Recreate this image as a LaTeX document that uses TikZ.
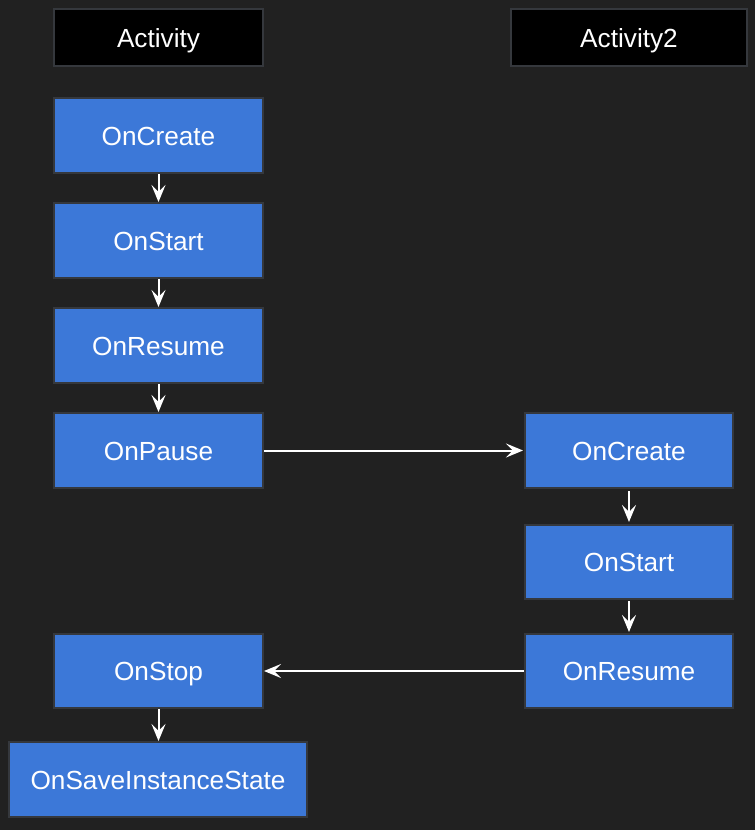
\documentclass[tikz,border=0pt]{standalone}
\usepackage{fontspec}
\setmainfont{Liberation Sans}
\usetikzlibrary{arrows.meta}
\definecolor{bg}{HTML}{212121}
\definecolor{boxblue}{HTML}{3C78D8}
\definecolor{edge}{HTML}{35383D}
\tikzset{
  lbl/.style={text=white, inner sep=0pt, text height=19pt, text depth=0pt,
    font=\fontsize{26.2}{30}\selectfont},
  box/.style={lbl, draw=edge, line width=2pt, fill=boxblue},
  header/.style={lbl, draw=edge, line width=2pt, fill=black, minimum height=57pt},
  flow/.style={draw=white, line width=2pt, -{Stealth[length=17pt,width=14pt,inset=7pt]}}
}
\begin{document}
\begin{tikzpicture}[x=1pt,y=-1pt]
\fill[bg] (0,0) rectangle (755,830);
\useasboundingbox (0,0) rectangle (755,830);
\node[header, minimum width=209pt] (h1) at (158.5,37.5) {Activity};
\node[header, minimum width=236pt] (h2) at (629,37.5) {Activity2};
\node[box, minimum width=209pt, minimum height=75pt] (c1) at (158.5,135.5) {OnCreate};
\node[box, minimum width=209pt, minimum height=75pt] (s1) at (158.5,240.5) {OnStart};
\node[box, minimum width=209pt, minimum height=75pt] (r1) at (158.5,345.5) {OnResume};
\node[box, minimum width=209pt, minimum height=75pt] (p1) at (158.5,450.5) {OnPause};
\node[box, minimum width=208pt, minimum height=75pt] (c2) at (629,450.5) {OnCreate};
\node[box, minimum width=208pt, minimum height=74pt] (s2) at (629,562) {OnStart};
\node[box, minimum width=208pt, minimum height=74pt] (r2) at (629,671) {OnResume};
\node[box, minimum width=209pt, minimum height=74pt] (st) at (158.5,671) {OnStop};
\node[box, minimum width=298pt, minimum height=75pt] (sv) at (158,779.5) {OnSaveInstanceState};
\draw[flow] (c1) -- (s1);
\draw[flow] (s1) -- (r1);
\draw[flow] (r1) -- (p1);
\draw[flow, shorten >=1pt] (p1) -- (c2);
\draw[flow, shorten <=2pt, shorten >=2pt] (c2) -- (s2);
\draw[flow, shorten <=1pt, shorten >=1pt] (s2) -- (r2);
\draw[flow] (r2) -- (st);
\draw[flow] (st) -- (sv.north -| st.south);
\end{tikzpicture}
\end{document}
